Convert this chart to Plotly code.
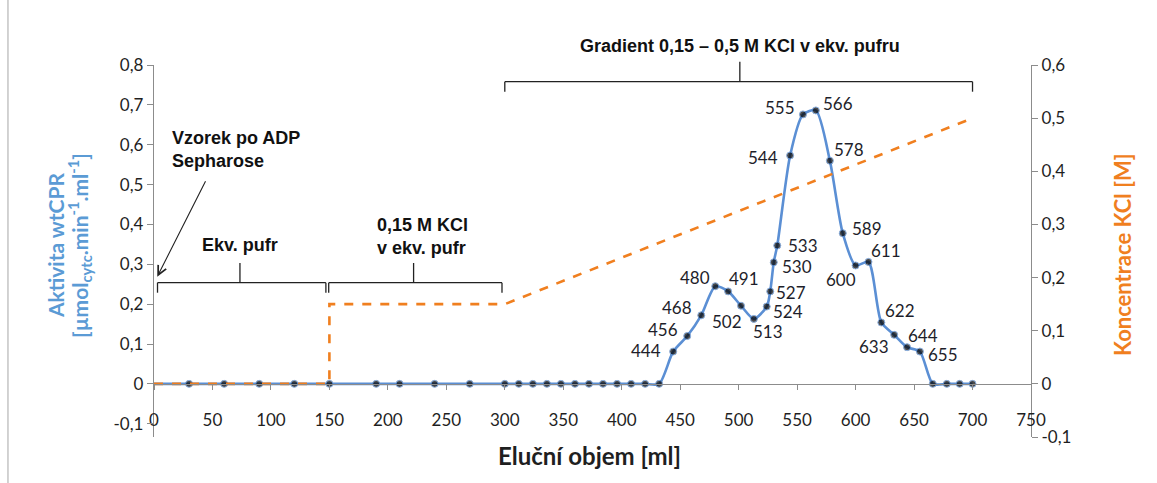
import plotly.graph_objects as go

# ---------------- data ----------------
elution_ml = [0, 30, 60, 90, 120, 150, 190, 210, 240, 270, 300, 312, 324, 336, 348, 360, 372,
              384, 396, 408, 420, 432, 444, 456, 468, 480, 491, 502, 513, 524, 527, 530, 533,
              544, 555, 566, 578, 589, 600, 611, 622, 633, 644, 655, 666, 678, 689, 700]
activity = [0] * 22 + [0.081, 0.12, 0.172, 0.245, 0.232, 0.196, 0.163, 0.194, 0.232, 0.305,
                       0.347, 0.573, 0.676, 0.686, 0.56, 0.378, 0.297, 0.306, 0.154, 0.123,
                       0.092, 0.081] + [0, 0, 0, 0]

kcl_ml = [0, 150, 150, 300, 700]
kcl_conc = [0, 0, 0.15, 0.15, 0.5]

labelled_ml = [444, 456, 468, 480, 491, 502, 513, 524, 527, 530, 533, 544, 555, 566, 578,
               589, 600, 611, 622, 633, 644, 655]

x_ticks = list(range(0, 751, 50))
y1_ticks = [-0.1, 0, 0.1, 0.2, 0.3, 0.4, 0.5, 0.6, 0.7, 0.8]
y1_ticktext = ["-0,1", "0", "0,1", "0,2", "0,3", "0,4", "0,5", "0,6", "0,7", "0,8"]
y2_ticks = [-0.1, 0, 0.1, 0.2, 0.3, 0.4, 0.5, 0.6]
y2_ticktext = ["-0,1", "0", "0,1", "0,2", "0,3", "0,4", "0,5", "0,6"]

# ---------------- style ----------------
BLUE = "#5B8FD4"
BLUE_T = "#5B9BD5"
ORANGE = "#F07F1F"
AXC = "#8C8C8C"
TXT = "#1f1f1f"
TICKFONT = dict(family="Lato", size=17, color=TXT)
ANNFONT = dict(family="Liberation Sans", size=18, color="#111111")

# label offsets (pixels) for point labels
label_offsets = {
    444: (-27, 1), 456: (-24, 7), 468: (-24, 8), 480: (-20, 9), 491: (16, 13),
    502: (-14, -16), 513: (14, -13), 524: (21, -5), 527: (21, -1), 530: (23, -4),
    533: (26, 0), 544: (-27, -2), 555: (-23, 7), 566: (22, 7), 578: (19, 11),
    589: (24, 5), 600: (-15, -14), 611: (18, 11), 622: (19, 12), 633: (-20, -12),
    644: (16, 12), 655: (23, -3),
}

fig = go.Figure()

fig.add_trace(go.Scatter(
    x=elution_ml, y=activity, mode="lines+markers", yaxis="y",
    line=dict(color=BLUE, width=2.6, shape="spline", smoothing=0.7),
    marker=dict(color="black", size=[0] + [7] * (len(elution_ml) - 1)),
    showlegend=False, hoverinfo="x+y",
))

fig.add_trace(go.Scatter(
    x=kcl_ml, y=kcl_conc, mode="lines", yaxis="y2",
    line=dict(color=ORANGE, width=2.6, dash="dash"),
    showlegend=False,
))

annotations = []
act_by_ml = dict(zip(elution_ml, activity))
for v in labelled_ml:
    dx, dy = label_offsets[v]
    annotations.append(dict(
        x=v, y=act_by_ml[v], xref="x", yref="y", text=str(v), showarrow=False,
        xshift=dx, yshift=dy, font=dict(family="Lato", size=17, color="#1e1e2a"),
    ))

# text annotations
annotations += [
    dict(x=13.7, y=0.774, xref="x", yref="paper", text="Vzorek po ADP<br>Sepharose",
         showarrow=False, xanchor="left", yanchor="middle", align="left",
         font=dict(ANNFONT, weight="bold")),
    dict(x=2.8, y=0.431, xref="x", yref="paper", text="", showarrow=True,
         ax=49, ay=-97, arrowhead=5, arrowsize=1.6, arrowwidth=1.1, arrowcolor="#222"),
    dict(x=73.5, y=0.516, xref="x", yref="paper", text="Ekv. pufr", showarrow=False,
         xanchor="center", yanchor="middle", font=dict(ANNFONT, weight="bold")),
    dict(x=189, y=0.539, xref="x", yref="paper", text="0,15 M KCl<br>v ekv. pufr",
         showarrow=False, xanchor="left", yanchor="middle", align="left",
         font=dict(ANNFONT, weight="bold")),
    dict(x=501, y=1.051, xref="x", yref="paper", text="Gradient 0,15 – 0,5 M KCl v ekv. pufru",
         showarrow=False, xanchor="center", yanchor="middle",
         font=dict(ANNFONT, weight="bold")),
    # axis titles
    dict(x=0.497, y=-0.05, xref="paper", yref="paper", text="<b>Eluční objem [ml]</b>",
         showarrow=False, xanchor="center", yanchor="middle",
         font=dict(family="Lato", size=24, color=TXT)),
    dict(x=-0.1129, y=0.516, xref="paper", yref="paper", text="<b>Aktivita wtCPR</b>",
         showarrow=False, textangle=-90, xanchor="center", yanchor="middle",
         font=dict(family="Lato", size=21, color=BLUE_T)),
    dict(x=-0.0857, y=0.516, xref="paper", yref="paper",
         text="<b>[µmol<sub>cytc</sub>.min<sup>-1</sup>.ml<sup>-1</sup>]</b>",
         showarrow=False, textangle=-90, xanchor="center", yanchor="middle",
         font=dict(family="Lato", size=21, color=BLUE_T)),
    dict(x=1.1038, y=0.489, xref="paper", yref="paper", text="<b>Koncentrace KCl [M]</b>",
         showarrow=False, textangle=-90, xanchor="center", yanchor="middle",
         font=dict(family="Lato", size=22, color=ORANGE)),
]

# brackets
def bracket(x0, x1, xc, y_bar, y_end, y_top):
    ln = dict(color="#222", width=1.3)
    return [
        dict(type="line", xref="x", yref="paper", x0=x0, x1=x1, y0=y_bar, y1=y_bar, line=ln),
        dict(type="line", xref="x", yref="paper", x0=x0, x1=x0, y0=y_bar, y1=y_end, line=ln),
        dict(type="line", xref="x", yref="paper", x0=x1, x1=x1, y0=y_bar, y1=y_end, line=ln),
        dict(type="line", xref="x", yref="paper", x0=xc, x1=xc, y0=y_bar, y1=y_top, line=ln),
    ]

shapes = []
shapes += bracket(3, 147, 73.5, 0.4148, 0.3879, 0.4677)
shapes += bracket(149.4, 297.6, 222, 0.4148, 0.3879, 0.4677)
shapes += bracket(300, 700, 501, 0.9551, 0.9282, 1.0089)
# chart border (left edge)
shapes.append(dict(type="line", xref="paper", yref="paper", x0=-0.1665, x1=-0.1665,
                   y0=-0.13, y1=1.18, line=dict(color="#A6A6A6", width=1)))

fig.update_layout(
    width=1157, height=483,
    margin=dict(l=154, r=126, t=65, b=46),
    paper_bgcolor="white", plot_bgcolor="white",
    xaxis=dict(range=[0, 750], tickvals=x_ticks, anchor="free", position=0.142857,
               showline=True, linecolor=AXC, linewidth=1.3, ticks="outside", ticklen=5,
               tickcolor=AXC, tickwidth=1.3, ticklabelstandoff=16, showgrid=False,
               zeroline=False, tickfont=TICKFONT),
    yaxis=dict(range=[-0.13333, 0.8], tickvals=y1_ticks, ticktext=y1_ticktext,
               showline=True, linecolor=AXC, linewidth=1.3, ticks="outside", ticklen=6,
               tickcolor=AXC, tickwidth=1.3, showgrid=False, zeroline=False,
               tickfont=TICKFONT),
    yaxis2=dict(range=[-0.1, 0.6], tickvals=y2_ticks, ticktext=y2_ticktext,
                overlaying="y", side="right", showline=True, linecolor=AXC, linewidth=1.3,
                ticks="outside", ticklen=6, tickcolor=AXC, tickwidth=1.3, showgrid=False,
                zeroline=False, tickfont=TICKFONT),
    annotations=annotations,
    shapes=shapes,
)

fig.write_html("out.html")
